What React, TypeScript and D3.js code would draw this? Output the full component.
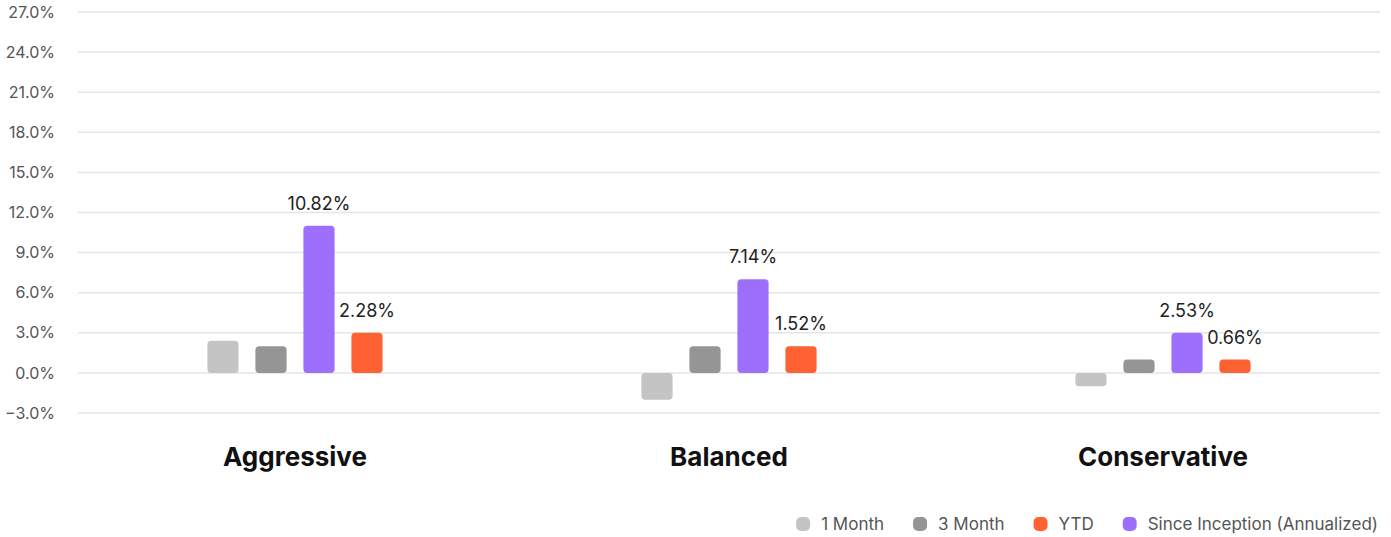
import * as d3 from 'd3';
import { useEffect, useRef } from 'react';

const categories = ['Aggressive', 'Balanced', 'Conservative'];
const oneMonth = [2.4, -2.0, -1.0];
const threeMonth = [2.0, 2.0, 1.0];
const sinceInception = [11.0, 7.0, 3.0];
const ytd = [3.0, 2.0, 1.0];
const sinceInceptionLabels = ['10.82%', '7.14%', '2.53%'];
const ytdLabels = ['2.28%', '1.52%', '0.66%'];
const yTicks = [-3, 0, 3, 6, 9, 12, 15, 18, 21, 24, 27];

// bar order inside each group
const series = [
  { key: '1 Month', values: oneMonth, labels: null, color: '#c4c4c4' },
  { key: '3 Month', values: threeMonth, labels: null, color: '#959595' },
  { key: 'Since Inception (Annualized)', values: sinceInception, labels: sinceInceptionLabels, color: '#9e6ffd' },
  { key: 'YTD', values: ytd, labels: ytdLabels, color: '#ff6232' },
];
const legendOrder = ['1 Month', '3 Month', 'YTD', 'Since Inception (Annualized)'];

const W = 1391;
const H = 537;
const FONT = 'Inter, "Noto Sans", sans-serif';

export default function App() {
  const ref = useRef<SVGSVGElement | null>(null);

  useEffect(() => {
    const svg = d3.select(ref.current);
    svg.selectAll('*').remove();

    const y = d3.scaleLinear().domain([-3, 27]).range([413, 12]);
    const x0 = d3.scaleBand().domain(categories).range([78, 1380]);
    const bw = x0.bandwidth();
    const x1 = d3
      .scaleBand()
      .domain(series.map((s) => s.key))
      .range([bw / 2 - 96, bw / 2 + 96])
      .paddingInner(0.35)
      .paddingOuter(0.175);

    // grid + y labels
    const grid = svg.append('g');
    grid
      .selectAll('line')
      .data(yTicks)
      .join('line')
      .attr('x1', 78)
      .attr('x2', 1380)
      .attr('y1', (d) => y(d))
      .attr('y2', (d) => y(d))
      .attr('stroke', '#e5e5e5')
      .attr('stroke-width', 1.5);
    grid
      .selectAll('text')
      .data(yTicks)
      .join('text')
      .attr('x', 55)
      .attr('y', (d) => y(d))
      .attr('dy', '0.35em')
      .attr('text-anchor', 'end')
      .attr('font-family', FONT)
      .attr('font-size', 16)
      .attr('fill', '#555')
      .text((d) => d3.format('.1f')(d) + '%');

    // bars
    const groups = svg
      .append('g')
      .selectAll('g')
      .data(categories)
      .join('g')
      .attr('transform', (d) => `translate(${x0(d)},0)`);

    series.forEach((s) => {
      groups
        .append('rect')
        .attr('x', x1(s.key)!)
        .attr('width', x1.bandwidth())
        .attr('y', (_, i) => Math.min(y(s.values[i]), y(0)))
        .attr('height', (_, i) => Math.abs(y(s.values[i]) - y(0)))
        .attr('rx', 4)
        .attr('fill', s.color);
      if (s.labels) {
        groups
          .append('text')
          .attr('x', x1(s.key)! + x1.bandwidth() / 2)
          .attr('y', (_, i) => y(s.values[i]) - 16)
          .attr('text-anchor', 'middle')
          .attr('font-family', FONT)
          .attr('font-size', 18)
          .attr('fill', '#222')
          .text((_, i) => s.labels![i]);
      }
    });

    // category labels
    svg
      .append('g')
      .selectAll('text')
      .data(categories)
      .join('text')
      .attr('x', (d) => x0(d)! + bw / 2)
      .attr('y', 466)
      .attr('text-anchor', 'middle')
      .attr('font-family', FONT)
      .attr('font-size', 26)
      .attr('font-weight', 700)
      .attr('fill', '#111')
      .text((d) => d);

    // legend, right aligned
    const legend = svg.append('g');
    const items = legendOrder.map((k) => series.find((s) => s.key === k)!);
    const texts = items.map((s) =>
      legend
        .append('text')
        .attr('y', 524)
        .attr('dy', '0.35em')
        .attr('font-family', FONT)
        .attr('font-size', 17)
        .attr('fill', '#555')
        .text(s.key)
    );
    let xr = 1378;
    for (let i = items.length - 1; i >= 0; i--) {
      const tw = (texts[i].node() as SVGTextElement).getComputedTextLength();
      const tx = xr - tw;
      texts[i].attr('x', tx);
      legend
        .append('rect')
        .attr('x', tx - 11 - 14)
        .attr('y', 524 - 7)
        .attr('width', 14)
        .attr('height', 14)
        .attr('rx', 5)
        .attr('fill', items[i].color);
      xr = tx - 11 - 14 - 29;
    }
  }, []);

  return (
    <svg
      ref={ref}
      width={W}
      height={H}
      style={{ position: 'absolute', left: 0, top: 0, background: '#fff' }}
    />
  );
}
